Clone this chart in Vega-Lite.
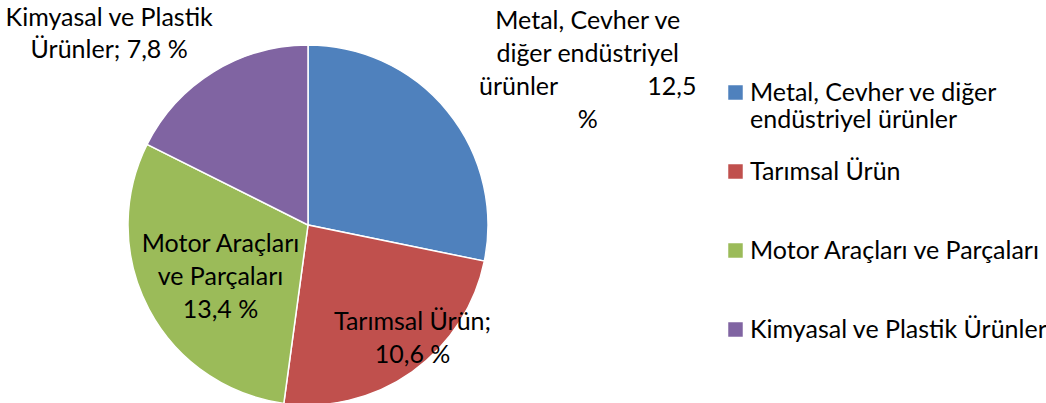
{
  "$schema": "https://vega.github.io/schema/vega-lite/v6.json",
  "width": 360,
  "height": 360,
  "autosize": {"type": "none"},
  "padding": {"left": 128, "top": 45, "right": 558, "bottom": 0},
  "background": "white",
  "config": {"view": {"stroke": null}, "font": "Lato"},
  "data": {
    "values": [
      {"k": 1, "cat": "Metal, Cevher ve diğer endüstriyel ürünler", "value": 12.5, "label": "Metal, Cevher ve\ndiğer endüstriyel\nürünler\u00a0\u00a0\u00a0\u00a0\u00a0\u00a0\u00a0\u00a0\u00a0\u00a0\u00a0\u00a0\u00a0\u00a012,5\n%"},
      {"k": 2, "cat": "Tarımsal Ürün", "value": 10.6, "label": "Tarımsal Ürün;\n10,6 %"},
      {"k": 3, "cat": "Motor Araçları ve Parçaları", "value": 13.4, "label": "Motor Araçları\nve Parçaları\n13,4 %"},
      {"k": 4, "cat": "Kimyasal ve Plastik Ürünler", "value": 7.8, "label": "Kimyasal ve Plastik\nÜrünler; 7,8 %"}
    ]
  },
  "encoding": {
    "theta": {"field": "value", "type": "quantitative", "stack": true},
    "order": {"field": "k", "type": "quantitative"}
  },
  "layer": [
    {
      "mark": {"type": "arc", "outerRadius": 180, "stroke": "white", "strokeWidth": 1.5},
      "encoding": {
        "color": {
          "field": "cat",
          "type": "nominal",
          "scale": {
            "domain": ["Metal, Cevher ve diğer endüstriyel ürünler", "Tarımsal Ürün", "Motor Araçları ve Parçaları", "Kimyasal ve Plastik Ürünler"],
            "range": ["#4F81BD", "#C0504D", "#9BBB59", "#8064A2"]
          },
          "legend": {
            "title": null,
            "orient": "right",
            "offset": 200,
            "padding": 35,
            "symbolType": "square",
            "symbolSize": 210,
            "symbolStrokeWidth": 0,
            "labelFont": "Lato",
            "labelFontSize": 25,
            "labelColor": "black",
            "labelLimit": 400,
            "labelOffset": 2,
            "gridAlign": "all",
            "rowPadding": 26,
            "labelExpr": "datum.label == 'Metal, Cevher ve diğer endüstriyel ürünler' ? ['Metal, Cevher ve diğer', 'endüstriyel ürünler'] : datum.label"
          }
        }
      }
    },
    {
      "mark": {"type": "text", "radius": 250, "dx": 86, "dy": -46, "fontSize": 25, "lineBreak": "\n", "lineHeight": 33, "color": "black"},
      "encoding": {"text": {"condition": {"test": "datum.k == 1", "field": "label"}, "value": ""}}
    },
    {
      "mark": {"type": "text", "radius": 153, "dx": 16, "dy": -28, "fontSize": 25, "lineBreak": "\n", "lineHeight": 33, "color": "black"},
      "encoding": {"text": {"condition": {"test": "datum.k == 2", "field": "label"}, "value": ""}}
    },
    {
      "mark": {"type": "text", "radius": 108, "dx": 8, "dy": -31, "fontSize": 25, "lineBreak": "\n", "lineHeight": 33, "color": "black"},
      "encoding": {"text": {"condition": {"test": "datum.k == 3", "field": "label"}, "value": ""}}
    },
    {
      "mark": {"type": "text", "radius": 230, "dx": -78, "dy": -11, "fontSize": 25, "lineBreak": "\n", "lineHeight": 32, "color": "black"},
      "encoding": {"text": {"condition": {"test": "datum.k == 4", "field": "label"}, "value": ""}}
    }
  ]
}
